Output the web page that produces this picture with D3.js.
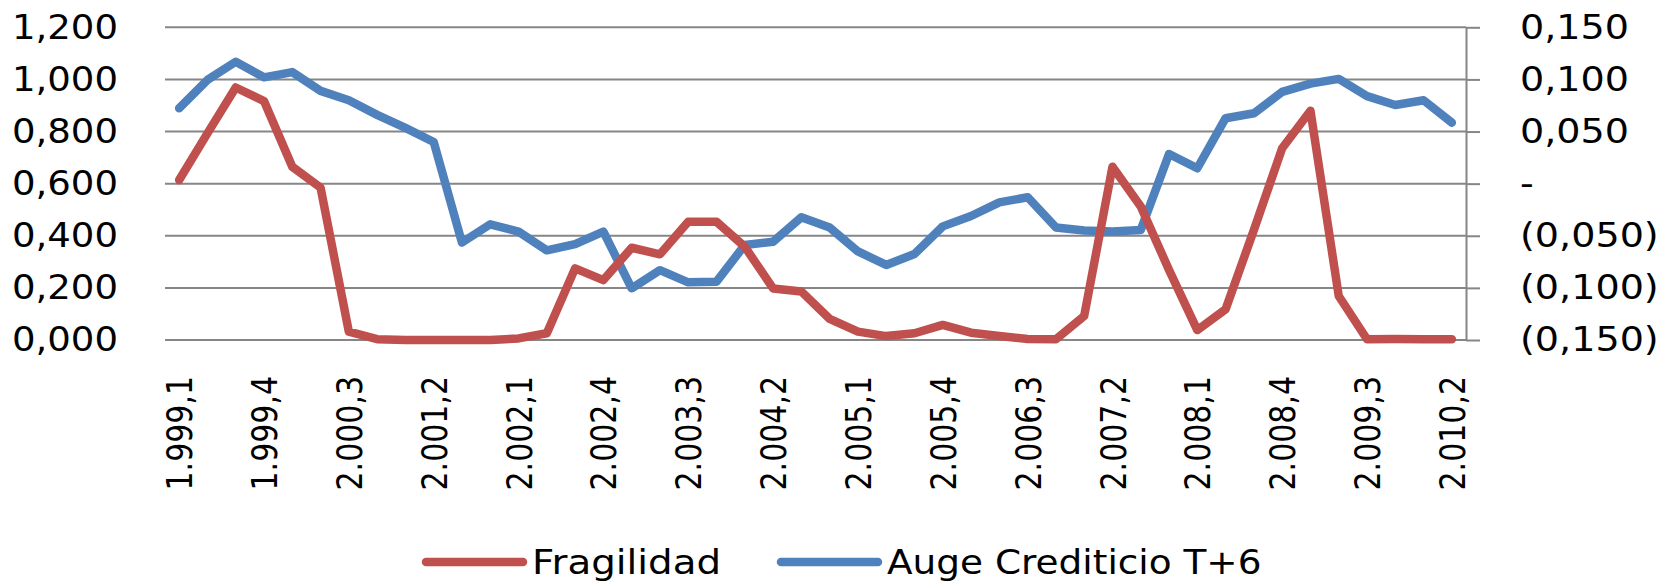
<!DOCTYPE html>
<html>
<head>
<meta charset="utf-8">
<script src="https://cdn.jsdelivr.net/npm/d3@7"></script>
<style>
  body { margin: 0; background: #fff; }
  svg { display: block; font-family: "DejaVu Sans", "Liberation Sans", sans-serif; }
  .grid line { stroke: #868686; stroke-width: 2; }
  .tick text { fill: #000; }
</style>
</head>
<body>
<svg width="1659" height="582"></svg>
<script>
// DATA

var quarters = [
  "1.999,1","1.999,2","1.999,3","1.999,4","2.000,1","2.000,2","2.000,3","2.000,4",
  "2.001,1","2.001,2","2.001,3","2.001,4","2.002,1","2.002,2","2.002,3","2.002,4",
  "2.003,1","2.003,2","2.003,3","2.003,4","2.004,1","2.004,2","2.004,3","2.004,4",
  "2.005,1","2.005,2","2.005,3","2.005,4","2.006,1","2.006,2","2.006,3","2.006,4",
  "2.007,1","2.007,2","2.007,3","2.007,4","2.008,1","2.008,2","2.008,3","2.008,4",
  "2.009,1","2.009,2","2.009,3","2.009,4","2.010,1","2.010,2"
];

// labels shown on the category axis (every third quarter)
var tickLabels = [
  "1.999,1","1.999,4","2.000,3","2.001,2","2.002,1","2.002,4","2.003,3","2.004,2",
  "2.005,1","2.005,4","2.006,3","2.007,2","2.008,1","2.008,4","2.009,3","2.010,2"
];

// left axis
var fragilidad = [
  0.614, 0.793, 0.969, 0.917, 0.665, 0.585, 0.032, 0.003, 0.000, 0.000,
  0.000, 0.000, 0.006, 0.026, 0.275, 0.230, 0.354, 0.329, 0.454, 0.454,
  0.358, 0.198, 0.186, 0.081, 0.032, 0.015, 0.026, 0.058, 0.028, 0.015,
  0.004, 0.003, 0.092, 0.665, 0.512, 0.269, 0.038, 0.118, 0.422, 0.736,
  0.880, 0.169, 0.003, 0.004, 0.003, 0.003
];

// right axis
var auge = [
  0.0723, 0.0995, 0.117, 0.102, 0.107, 0.089, 0.080, 0.066, 0.0535, 0.040,
  -0.0565, -0.039, -0.046, -0.064, -0.058, -0.046, -0.1004, -0.083, -0.0947, -0.094,
  -0.0588, -0.0557, -0.0323, -0.042, -0.065, -0.078, -0.0675, -0.041, -0.031, -0.018,
  -0.0130, -0.042, -0.045, -0.046, -0.0445, 0.0285, 0.0148, 0.0628, 0.0675, 0.088,
  0.096, 0.1005, 0.084, 0.0755, 0.080, 0.0585
];

var leftTicks = [0, 0.2, 0.4, 0.6, 0.8, 1.0, 1.2];
var rightTicks = [-0.15, -0.10, -0.05, 0, 0.05, 0.10, 0.15];

var seriesNames = ["Fragilidad", "Auge Crediticio T+6"];
var colors = ["#C0504D", "#4F81BD"];

// SETUP

var svg = d3.select("svg"),
    plot = { left: 165, right: 1466, top: 27.3, bottom: 340 },
    font = "DejaVu Sans";

var x = d3.scalePoint()
    .domain(quarters)
    .range([plot.left, plot.right])
    .padding(0.5);

var yL = d3.scaleLinear().domain([0, 1.2]).range([plot.bottom, plot.top]);
var yR = d3.scaleLinear().domain([-0.15, 0.15]).range([plot.bottom, plot.top]);

var fmtL = function (d) { return d3.format(".3f")(d).replace(".", ","); };
var fmtR = function (d) {
    if (Math.abs(d) < 1e-9) return "-";
    var s = d3.format(".3f")(Math.abs(d)).replace(".", ",");
    return d < 0 ? "(" + s + ")" : s;
};

// the original picture is a little stretched sideways
function widen(sel, k) {
    sel.each(function () {
        var w = this.getComputedTextLength();
        d3.select(this).attr("textLength", w * k).attr("lengthAdjust", "spacingAndGlyphs");
    });
}

// gridlines
svg.append("g")
    .attr("class", "grid")
    .selectAll("line")
    .data(leftTicks)
    .enter().append("line")
    .attr("x1", plot.left)
    .attr("x2", plot.right)
    .attr("y1", function (d) { return yL(d); })
    .attr("y2", function (d) { return yL(d); });

// left axis (labels only)
var gl = svg.append("g")
    .attr("transform", "translate(" + plot.left + ",0)")
    .call(d3.axisLeft(yL).tickValues(leftTicks).tickFormat(fmtL).tickSize(0).tickPadding(47))
    .attr("font-family", font);
gl.select(".domain").remove();
gl.selectAll("text").attr("font-size", 34).call(widen, 1.09);

// right axis
var gr = svg.append("g")
    .attr("transform", "translate(" + plot.right + ",0)")
    .call(d3.axisRight(yR).tickValues(rightTicks).tickFormat(fmtR).tickSize(14).tickSizeOuter(0).tickPadding(40))
    .attr("font-family", font);
gr.select(".domain").attr("stroke", "#868686").attr("stroke-width", 2);
gr.selectAll(".tick line").attr("stroke", "#868686").attr("stroke-width", 2);
gr.selectAll("text").attr("font-size", 34).call(widen, 1.12);

// category axis
var gx = svg.append("g")
    .attr("transform", "translate(0," + plot.bottom + ")")
    .call(d3.axisBottom(x).tickValues(tickLabels).tickSize(0).tickPadding(0))
    .attr("font-family", font);
gx.select(".domain").attr("stroke", "#868686").attr("stroke-width", 2)
    .attr("d", "M" + plot.left + ",0H" + plot.right);
gx.selectAll("text")
    .attr("font-size", 30)
    .attr("transform", "rotate(-90) scale(1,1.2)")
    .attr("text-anchor", "end")
    .attr("x", -36)
    .attr("y", 0)
    .attr("dy", "0.35em");

// LINES

var lineL = d3.line()
    .x(function (d, i) { return x(quarters[i]); })
    .y(function (d) { return yL(d); });

var lineR = d3.line()
    .x(function (d, i) { return x(quarters[i]); })
    .y(function (d) { return yR(d); });

svg.append("path")
    .datum(auge)
    .attr("fill", "none")
    .attr("stroke", colors[1])
    .attr("stroke-width", 8.5)
    .attr("stroke-linejoin", "round")
    .attr("stroke-linecap", "round")
    .attr("d", lineR);

svg.append("path")
    .datum(fragilidad)
    .attr("fill", "none")
    .attr("stroke", colors[0])
    .attr("stroke-width", 8.5)
    .attr("stroke-linejoin", "round")
    .attr("stroke-linecap", "round")
    .attr("d", lineL);

// LEGEND

var legendX = [426, 781];
var legend = svg.append("g").attr("transform", "translate(0,562)");
seriesNames.forEach(function (name, i) {
    legend.append("line")
        .attr("x1", legendX[i]).attr("x2", legendX[i] + 97)
        .attr("y1", 0).attr("y2", 0)
        .attr("stroke", colors[i])
        .attr("stroke-width", 8.5)
        .attr("stroke-linecap", "round");
    legend.append("text")
        .attr("x", legendX[i] + 106)
        .attr("y", 0)
        .attr("dy", "0.35em")
        .attr("font-size", 34)
        .attr("font-family", font)
        .text(name)
        .call(widen, i == 0 ? 1.14 : 1.1);
});
</script>
</body>
</html>
